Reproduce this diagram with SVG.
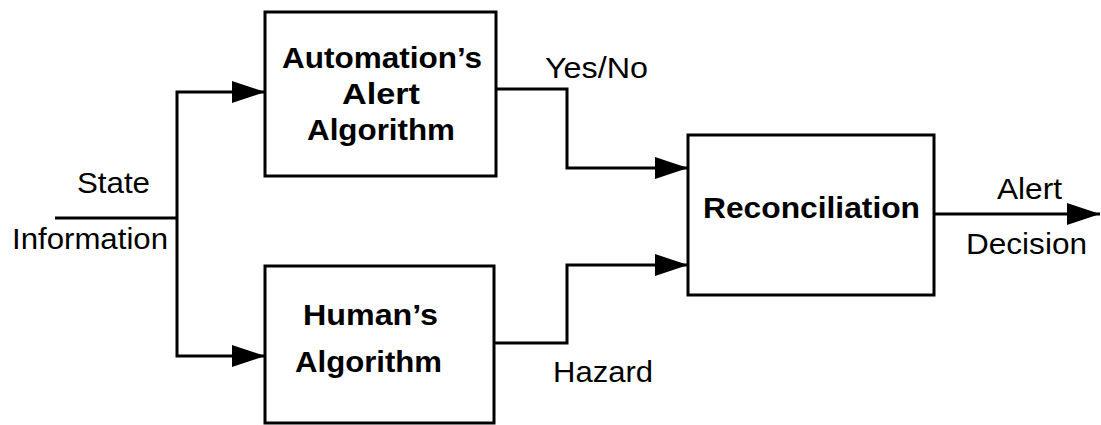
<svg xmlns="http://www.w3.org/2000/svg" width="1101" height="425" viewBox="0 0 1101 425">
<style>
.box{fill:#fff;stroke:#000;stroke-width:3}
.lbl{font-family:"Liberation Sans",Arial,sans-serif;font-size:30px;fill:#000}
.bold{font-weight:bold}
.wire{fill:none;stroke:#000;stroke-width:3}
</style>
<defs>
<marker id="arr" markerUnits="userSpaceOnUse" markerWidth="34" markerHeight="24" refX="33" refY="12" orient="auto">
<path d="M0,1 L33,12 L0,23 z" fill="#000"/>
</marker>
</defs>
<rect width="1101" height="425" fill="#fff"/>
<g id="connectors">
<path class="wire" d="M55,218 H177"/>
<path class="wire" d="M177,218 V92 H265" marker-end="url(#arr)"/>
<path class="wire" d="M177,218 V356 H265" marker-end="url(#arr)"/>
<path class="wire" d="M496,89 H567 V168 H688" marker-end="url(#arr)"/>
<path class="wire" d="M494,343 H567 V265 H688" marker-end="url(#arr)"/>
<path class="wire" d="M934,214 H1100" marker-end="url(#arr)"/>
<text class="lbl" x="77" y="193" textLength="73" lengthAdjust="spacingAndGlyphs">State</text>
<text class="lbl" x="12" y="249" textLength="156" lengthAdjust="spacingAndGlyphs">Information</text>
<text class="lbl" x="545" y="78" textLength="103" lengthAdjust="spacingAndGlyphs">Yes/No</text>
<text class="lbl" x="553" y="382" textLength="100" lengthAdjust="spacingAndGlyphs">Hazard</text>
<text class="lbl" x="997" y="199" textLength="65" lengthAdjust="spacingAndGlyphs">Alert</text>
<text class="lbl" x="966" y="254" textLength="121" lengthAdjust="spacingAndGlyphs">Decision</text>
</g>
<g id="automation">
<rect class="box" x="265" y="12" width="231" height="164"/>
<text class="lbl bold" x="282" y="68" textLength="200" lengthAdjust="spacingAndGlyphs">Automation’s</text>
<text class="lbl bold" x="342" y="104" textLength="78" lengthAdjust="spacingAndGlyphs">Alert</text>
<text class="lbl bold" x="307" y="140" textLength="148" lengthAdjust="spacingAndGlyphs">Algorithm</text>
</g>
<g id="human">
<rect class="box" x="265" y="266" width="229" height="157"/>
<text class="lbl bold" x="303" y="325" textLength="135" lengthAdjust="spacingAndGlyphs">Human’s</text>
<text class="lbl bold" x="295" y="372" textLength="147" lengthAdjust="spacingAndGlyphs">Algorithm</text>
</g>
<g id="reconciliation">
<rect class="box" x="688" y="135" width="246" height="160"/>
<text class="lbl bold" x="703" y="218" textLength="217" lengthAdjust="spacingAndGlyphs">Reconciliation</text>
</g>
</svg>
